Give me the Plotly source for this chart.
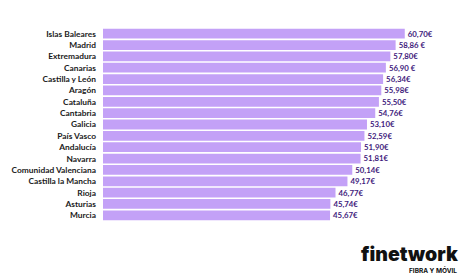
import plotly.graph_objects as go

regions = ["Islas Baleares", "Madrid", "Extremadura", "Canarias", "Castilla y León",
           "Aragón", "Cataluña", "Cantabria", "Galicia", "País Vasco", "Andalucía",
           "Navarra", "Comunidad Valenciana", "Castilla la Mancha", "Rioja", "Asturias", "Murcia"]
values = [60.70, 58.86, 57.80, 56.90, 56.34, 55.98, 55.50, 54.76, 53.10, 52.59, 51.90,
          51.81, 50.14, 49.17, 46.77, 45.74, 45.67]
labels = ["60,70€", "58,86 €", "57,80€", "56,90 €", "56,34€", "55,98€", "55,50€", "54,76€",
          "53,10€", "52,59€", "51,90€", "51,81€", "50,14€", "49,17€", "46,77€", "45,74€", "45,67€"]

W, H = 470, 276
L, R, T, B = 101, 19, 28, 55
n = len(regions)

fig = go.Figure(go.Bar(
    x=values, y=regions, orientation="h",
    marker=dict(color="#c3a1f7", line=dict(width=0)),
    text=labels, textposition="outside", cliponaxis=False,
    textfont=dict(family="Lato", size=8, color="#3f1c7d", weight="bold"),
    hoverinfo="skip",
))

fig.update_layout(
    width=W, height=H, margin=dict(l=L, r=R, t=T, b=B),
    paper_bgcolor="white", plot_bgcolor="white",
    bargap=0.14, showlegend=False,
    xaxis=dict(range=[0, 70], visible=False, fixedrange=True),
    yaxis=dict(autorange="reversed", showgrid=False, zeroline=False, showline=False,
               ticks="", ticklabelstandoff=6,
               tickfont=dict(family="Lato", size=8.4, color="#1a1a1a", weight="bold")),
)

plot_w = W - L - R
plot_h = H - T - B

def px(x):
    return (x - L) / plot_w

def py(y):
    return (H - B - y) / plot_h

fig.add_annotation(text="finetwork", xref="paper", yref="paper", x=px(460), y=py(254),
                   xanchor="right", yanchor="middle", showarrow=False,
                   font=dict(family="Inter", size=19.5, color="#111111", weight=900))
fig.add_annotation(text="FIBRA Y MÓVIL", xref="paper", yref="paper", x=px(459), y=py(270),
                   xanchor="right", yanchor="middle", showarrow=False,
                   font=dict(family="Inter", size=6.5, color="#111111", weight="bold"))

fig.write_html("out.html")
